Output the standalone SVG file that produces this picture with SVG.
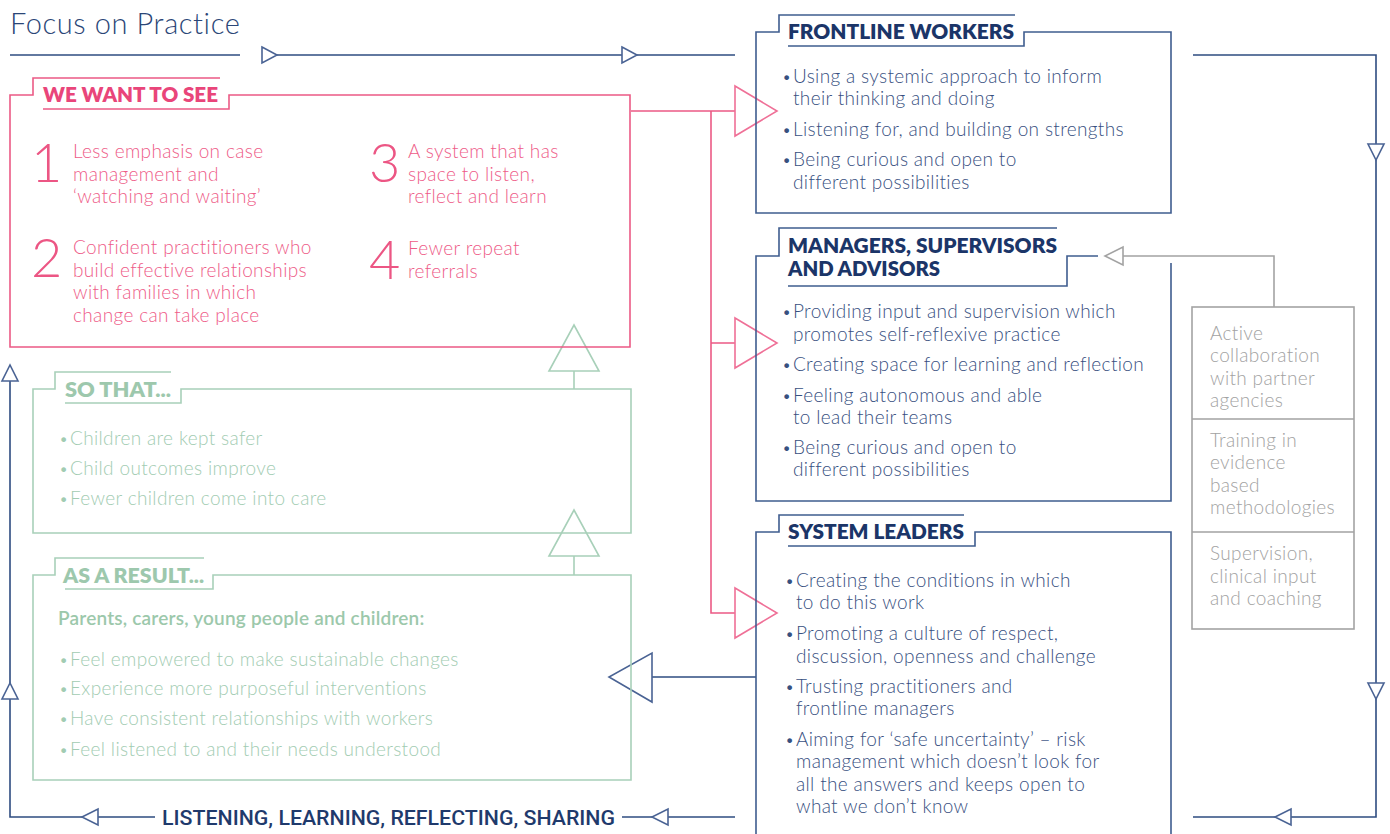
<svg xmlns="http://www.w3.org/2000/svg" width="1390" height="834" viewBox="0 0 1390 834">
  <style>
    .navy-line { fill: none; stroke: #2e4c80; stroke-width: 1.6; }
    .navy-box { fill: none; stroke: #3f5d8f; stroke-width: 1.6; }
    .pink-line { fill: none; stroke: #ec5a85; stroke-width: 1.6; }
    .green-line { fill: none; stroke: #a8d0b9; stroke-width: 1.6; }
    .grey-line { fill: none; stroke: #a3a3a3; stroke-width: 1.6; }
    .tri-navy { fill: #ffffff; stroke: #4a6394; stroke-width: 1.6; }
    .tri-pink { fill: #ffffff; stroke: #ef7097; stroke-width: 1.6; }
    .tri-green { fill: #ffffff; stroke: #a8d0b9; stroke-width: 1.6; }
    .tri-grey { fill: #ffffff; stroke: #a3a3a3; stroke-width: 1.6; }
    text { font-family: Lato, "Open Sans", "Liberation Sans", sans-serif; }
    .title { font-size: 29px; font-weight: 300; fill: #2b4677; letter-spacing: 0.6px; }
    .head-navy { font-size: 20px; font-weight: 800; fill: #1b3568; }
    .head-pink { font-size: 20px; font-weight: 800; fill: #e9457a; }
    .head-green { font-size: 20px; font-weight: 800; fill: #9dc8ad; }
    .body-navy, .body-pink, .body-green, .body-grey { font-size: 19px; font-weight: 300; letter-spacing: 0.35px; }
    .body-navy { fill: #38507f; }
    .body-pink { fill: #ee5c88; }
    .body-green { fill: #a2ccb2; }
    .body-grey { fill: #a2a2a2; }
    .dot { font-size: 16px; letter-spacing: 0; }
    .num-pink { font-size: 54px; font-weight: 300; fill: #ec5684; }
    .lead-green { font-size: 19px; font-weight: 600; fill: #9cc8ab; letter-spacing: 0.2px; }
    .footer { font-family: Roboto, Lato, "Liberation Sans", sans-serif; font-size: 21px; font-weight: 500; fill: #1f3a6c; }
  </style>

  <!-- heading -->
  <g id="title">
    <text class="title" x="10" y="34">Focus on Practice</text>
    <path class="navy-line" d="M10,55 H240"/>
  </g>

  <!-- loop, feed and outcome connectors -->
  <g id="connectors">
    <!-- top flow towards the right-hand column -->
    <path class="navy-line" d="M270,55 H735"/>
    <polygon class="tri-navy" points="262,47 277,55 262,63"/>
    <polygon class="tri-navy" points="622,47 637,55 622,63"/>
    <!-- outer feedback loop -->
    <path class="navy-line" d="M1193,55 H1376 V817 H1193"/>
    <polygon class="tri-navy" points="1368,144 1384,144 1376,160"/>
    <polygon class="tri-navy" points="1368,683 1384,683 1376,699"/>
    <polygon class="tri-navy" points="1291,809 1291,825 1275,817"/>
    <path class="navy-line" d="M735,817 H622"/>
    <polygon class="tri-navy" points="668,809 668,825 652,817"/>
    <path class="navy-line" d="M155,817 H10 V380"/>
    <polygon class="tri-navy" points="82,817 98,809 98,825"/>
    <polygon class="tri-navy" points="2,381 18,381 10,365"/>
    <polygon class="tri-navy" points="2,699 18,699 10,683"/>
    <!-- pink feed from the aims box to each group -->
    <path class="pink-line" d="M631,111 H735 M711,111 V613 H735 M711,343 H735"/>
    <polygon class="tri-pink" points="735,86 777,111 735,136"/>
    <polygon class="tri-pink" points="735,318 777,343 735,368"/>
    <polygon class="tri-pink" points="735,588 777,613 735,638"/>
    <!-- system leaders into outcomes -->
    <path class="navy-line" d="M756,677 H650"/>
    <polygon class="tri-navy" points="652,653 652,702 609,677"/>
    <!-- green upward chain -->
    <path class="green-line" d="M574,370 V389 M574,555 V575"/>
    <polygon class="tri-green" points="549,371 574,325 599,371"/>
    <polygon class="tri-green" points="549,556 574,510 599,556"/>
    <!-- support column into managers -->
    <path class="grey-line" d="M1274,307 V256 H1122"/>
    <polygon class="tri-grey" points="1123,247 1123,265 1105,256"/>
  </g>

  <g id="we-want-to-see">
    <path class="pink-line" d="M220,78 H33 V95 H10 V347 H630 V95 H229 V109 H43"/>
    <text class="head-pink" x="43" y="102" textLength="175" lengthAdjust="spacingAndGlyphs">WE WANT TO SEE</text>
    <text class="num-pink" x="31" y="182">1</text>
    <text class="body-pink" x="73" y="158">Less emphasis on case</text>
    <text class="body-pink" x="73" y="181">management and</text>
    <text class="body-pink" x="73" y="203">‘watching and waiting’</text>
    <text class="num-pink" x="31" y="277">2</text>
    <text class="body-pink" x="73" y="254">Confident practitioners who</text>
    <text class="body-pink" x="73" y="277">build effective relationships</text>
    <text class="body-pink" x="73" y="299">with families in which</text>
    <text class="body-pink" x="73" y="322">change can take place</text>
    <text class="num-pink" x="369" y="182">3</text>
    <text class="body-pink" x="408" y="158">A system that has</text>
    <text class="body-pink" x="408" y="181">space to listen,</text>
    <text class="body-pink" x="408" y="203">reflect and learn</text>
    <text class="num-pink" x="369" y="279">4</text>
    <text class="body-pink" x="408" y="255">Fewer repeat</text>
    <text class="body-pink" x="408" y="278">referrals</text>
  </g>

  <g id="so-that">
    <path class="green-line" d="M171,372 H55 V389 H33 V533 H631 V389 H181 V403 H65"/>
    <text class="head-green" x="65" y="397" textLength="106" lengthAdjust="spacingAndGlyphs">SO THAT...</text>
    <text class="body-green dot" x="59" y="444">•</text><text class="body-green" x="70" y="445">Children are kept safer</text>
    <text class="body-green dot" x="59" y="474">•</text><text class="body-green" x="70" y="475">Child outcomes improve</text>
    <text class="body-green dot" x="59" y="504">•</text><text class="body-green" x="70" y="505">Fewer children come into care</text>
  </g>

  <g id="as-a-result">
    <path class="green-line" d="M204,558 H55 V575 H33 V780 H631 V575 H213 V589 H65"/>
    <text class="head-green" x="63" y="583" textLength="141" lengthAdjust="spacingAndGlyphs">AS A RESULT...</text>
    <text class="lead-green" x="58" y="625">Parents, carers, young people and children:</text>
    <text class="body-green dot" x="59" y="665">•</text><text class="body-green" x="70" y="666">Feel empowered to make sustainable changes</text>
    <text class="body-green dot" x="59" y="694">•</text><text class="body-green" x="70" y="695">Experience more purposeful interventions</text>
    <text class="body-green dot" x="59" y="724">•</text><text class="body-green" x="70" y="725">Have consistent relationships with workers</text>
    <text class="body-green dot" x="59" y="755">•</text><text class="body-green" x="70" y="756">Feel listened to and their needs understood</text>
  </g>

  <g id="frontline-workers">
    <path class="navy-box" d="M1015,15 H779 V32 H756 V213 H1171 V32 H1024 V46 H788"/>
    <text class="head-navy" x="788" y="39" textLength="226" lengthAdjust="spacingAndGlyphs">FRONTLINE WORKERS</text>
    <text class="body-navy dot" x="782" y="82">•</text><text class="body-navy" x="793" y="83">Using a systemic approach to inform</text>
    <text class="body-navy" x="793" y="105">their thinking and doing</text>
    <text class="body-navy dot" x="782" y="135">•</text><text class="body-navy" x="793" y="136">Listening for, and building on strengths</text>
    <text class="body-navy dot" x="782" y="165">•</text><text class="body-navy" x="793" y="166">Being curious and open to</text>
    <text class="body-navy" x="793" y="189">different possibilities</text>
  </g>

  <g id="managers-supervisors-advisors">
    <path class="navy-box" d="M1057,228 H779 V256 H756 V501 H1171 V263"/>
    <path class="navy-box" d="M1098,256 H1067 V286 H788"/>
    <text class="head-navy" x="788" y="253" textLength="269" lengthAdjust="spacingAndGlyphs">MANAGERS, SUPERVISORS</text>
    <text class="head-navy" x="788" y="276" textLength="152" lengthAdjust="spacingAndGlyphs">AND ADVISORS</text>
    <text class="body-navy dot" x="782" y="317">•</text><text class="body-navy" x="793" y="318">Providing input and supervision which</text>
    <text class="body-navy" x="793" y="341">promotes self-reflexive practice</text>
    <text class="body-navy dot" x="782" y="370">•</text><text class="body-navy" x="793" y="371">Creating space for learning and reflection</text>
    <text class="body-navy dot" x="782" y="401">•</text><text class="body-navy" x="793" y="402">Feeling autonomous and able</text>
    <text class="body-navy" x="793" y="424">to lead their teams</text>
    <text class="body-navy dot" x="782" y="453">•</text><text class="body-navy" x="793" y="454">Being curious and open to</text>
    <text class="body-navy" x="793" y="476">different possibilities</text>
  </g>

  <g id="system-leaders">
    <path class="navy-box" d="M964,515 H779 V532 H756 V834 M1171,834 V532 H975 V546 H788"/>
    <text class="head-navy" x="788" y="539" textLength="176" lengthAdjust="spacingAndGlyphs">SYSTEM LEADERS</text>
    <text class="body-navy dot" x="785" y="586">•</text><text class="body-navy" x="796" y="587">Creating the conditions in which</text>
    <text class="body-navy" x="796" y="609">to do this work</text>
    <text class="body-navy dot" x="785" y="639">•</text><text class="body-navy" x="796" y="640">Promoting a culture of respect,</text>
    <text class="body-navy" x="796" y="663">discussion, openness and challenge</text>
    <text class="body-navy dot" x="785" y="692">•</text><text class="body-navy" x="796" y="693">Trusting practitioners and</text>
    <text class="body-navy" x="796" y="715">frontline managers</text>
    <text class="body-navy dot" x="785" y="745">•</text><text class="body-navy" x="796" y="746">Aiming for ‘safe uncertainty’ – risk</text>
    <text class="body-navy" x="796" y="768">management which doesn’t look for</text>
    <text class="body-navy" x="796" y="791">all the answers and keeps open to</text>
    <text class="body-navy" x="796" y="813">what we don’t know</text>
  </g>

  <g id="support-column">
    <rect class="grey-line" x="1192" y="307" width="162" height="322"/>
    <path class="grey-line" d="M1192,419 H1354 M1192,532 H1354"/>
    <text class="body-grey" x="1210" y="340">Active</text>
    <text class="body-grey" x="1210" y="362">collaboration</text>
    <text class="body-grey" x="1210" y="385">with partner</text>
    <text class="body-grey" x="1210" y="407">agencies</text>
    <text class="body-grey" x="1210" y="447">Training in</text>
    <text class="body-grey" x="1210" y="469">evidence</text>
    <text class="body-grey" x="1210" y="492">based</text>
    <text class="body-grey" x="1210" y="514">methodologies</text>
    <text class="body-grey" x="1210" y="560">Supervision,</text>
    <text class="body-grey" x="1210" y="583">clinical input</text>
    <text class="body-grey" x="1210" y="605">and coaching</text>
  </g>

  <g id="loop-label">
    <text class="footer" x="162" y="825" textLength="453" lengthAdjust="spacingAndGlyphs">LISTENING, LEARNING, REFLECTING, SHARING</text>
  </g>
</svg>
